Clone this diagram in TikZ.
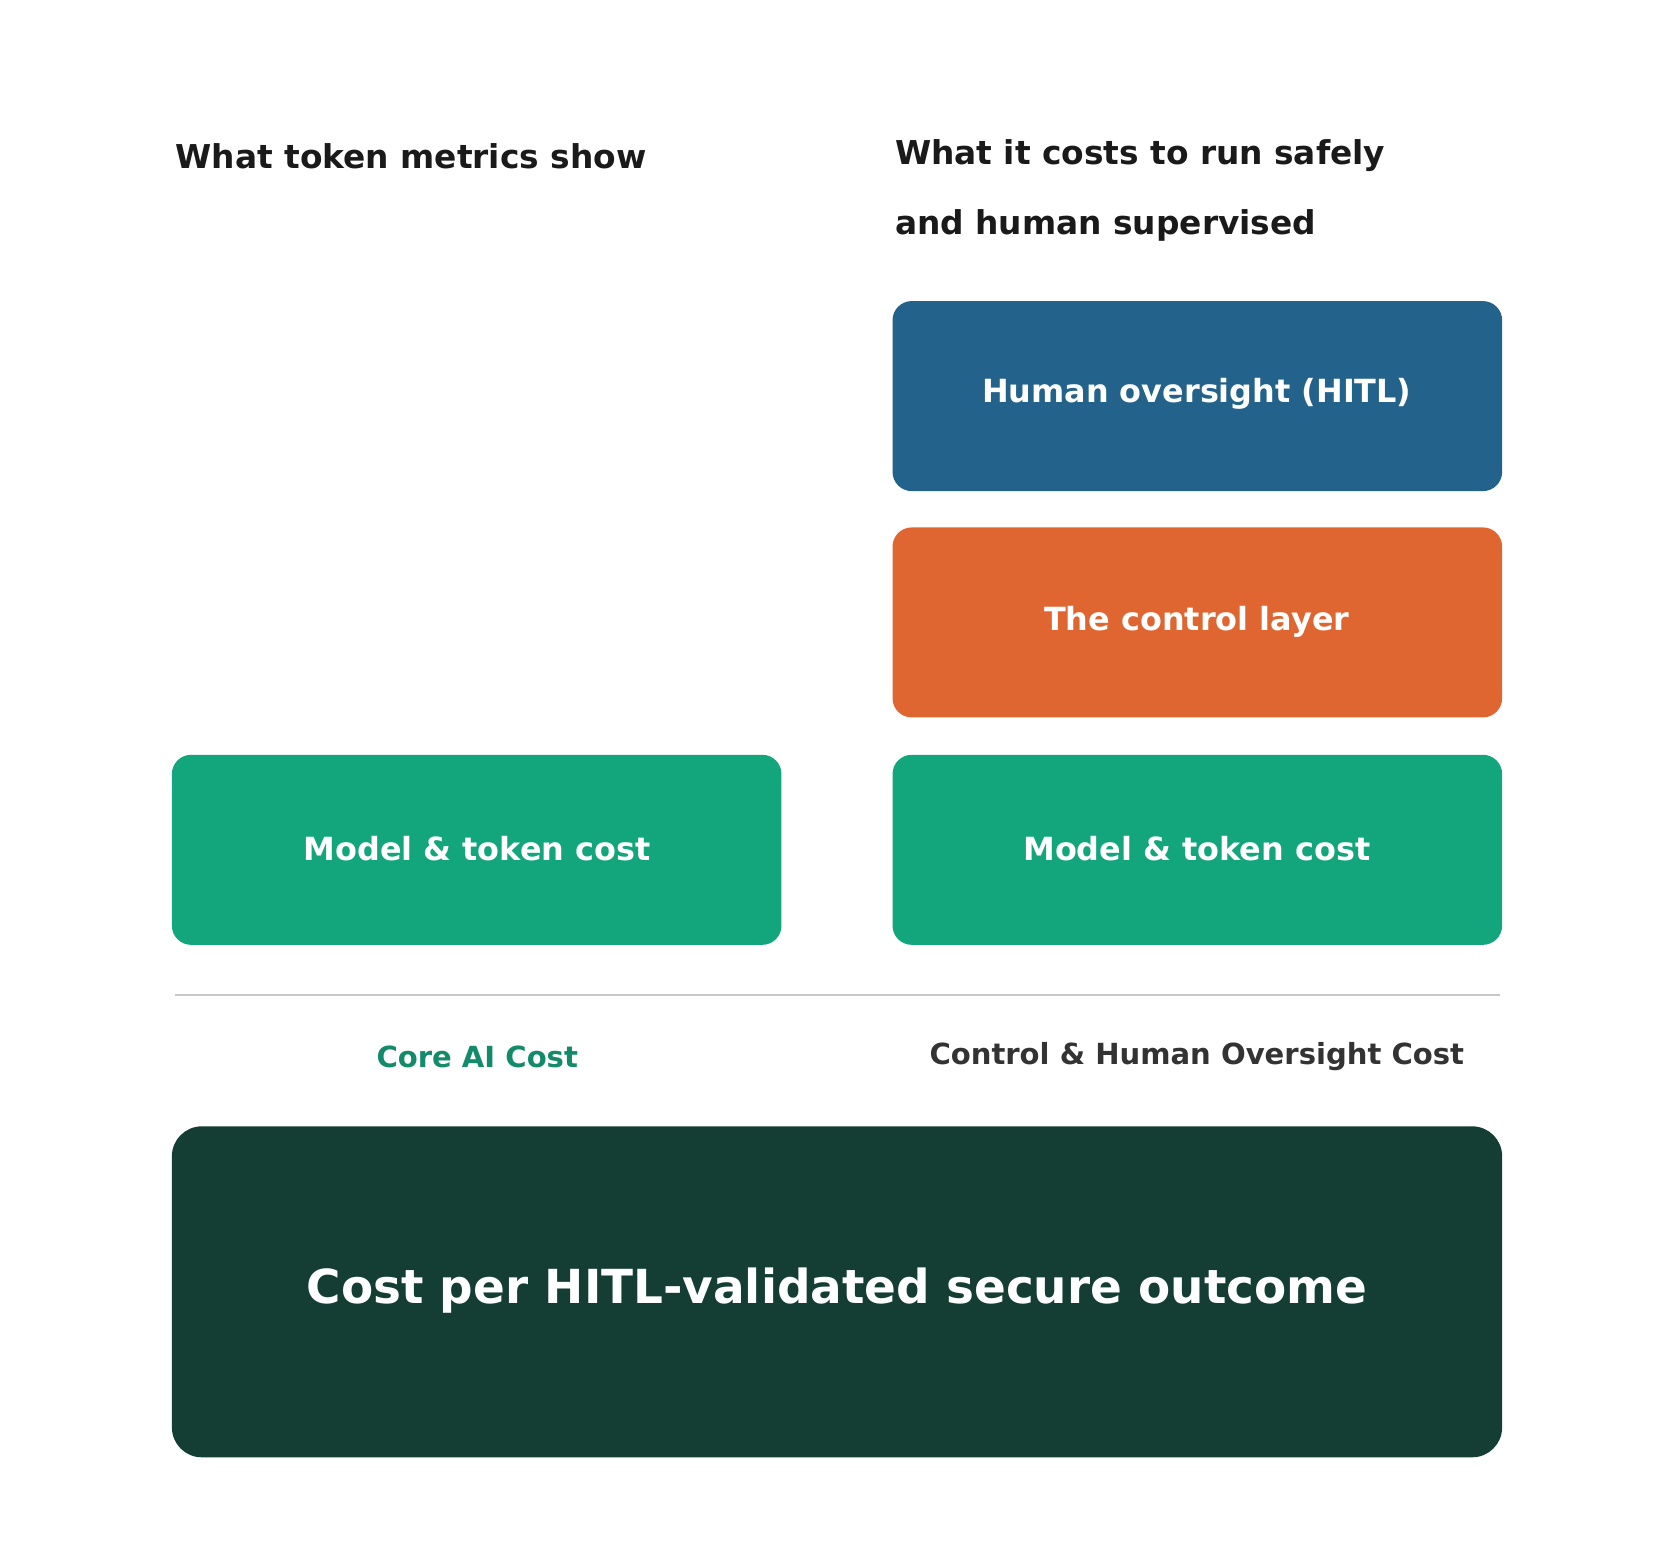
\documentclass[tikz,border=0pt]{standalone}
\usepackage{fontspec}
\setmainfont{DejaVu Sans}
\definecolor{cblue}{HTML}{23628B}
\definecolor{corange}{HTML}{E06631}
\definecolor{cgreen}{HTML}{13A67D}
\definecolor{cdark}{HTML}{143D33}
\definecolor{clab}{HTML}{138A6A}
\definecolor{cgray}{HTML}{333333}
\definecolor{ctxt}{HTML}{1A1A1A}
\begin{document}
\begin{tikzpicture}[x=0.02cm,y=-0.02cm,
 box/.style={rounded corners=0.36cm,inner sep=0pt,text=white,font=\fontsize{17}{20}\selectfont\bfseries},
 head/.style={anchor=west,text=ctxt,font=\fontsize{17.5}{21}\selectfont\bfseries,inner sep=0pt},
 lab/.style={font=\fontsize{15.5}{19}\selectfont\bfseries,inner sep=0pt}]
\useasboundingbox (0,0) rectangle (1568,1461);
\node[head] (h1) at (164,146) {What token metrics show};
\node[head] (h2) at (838,146) {What it costs to run safely};
\node[head] (h3) at (838,211) {and human supervised};
\fill[cblue,rounded corners=0.36cm] (836,282) rectangle (1407,460);
\node[box] (hitl) at (1121,369) {Human oversight (HITL)};
\fill[corange,rounded corners=0.36cm] (836,494) rectangle (1407,672);
\node[box] (ctrl) at (1121,582) {The control layer};
\fill[cgreen,rounded corners=0.36cm] (836,707) rectangle (1407,885);
\node[box] (m2) at (1121,795) {Model \& token cost};
\fill[cgreen,rounded corners=0.36cm] (161,707) rectangle (732,885);
\node[box] (m1) at (447,795) {Model \& token cost};
\coordinate (la) at (164,932); \coordinate (lb) at (1405,932);
\draw[line width=1.2pt,color=black!22] (la) -- (lb);
\node[lab,text=clab] (l1) at (447,990) {Core AI Cost};
\node[lab,text=cgray] (l2) at (1121,990) {Control \& Human Oversight Cost};
\fill[cdark,rounded corners=0.56cm] (161,1055) rectangle (1407,1365);
\node[box,font=\fontsize{25}{30}\selectfont\bfseries] (res) at (784,1209) {Cost per HITL-validated secure outcome};
\end{tikzpicture}
\end{document}
